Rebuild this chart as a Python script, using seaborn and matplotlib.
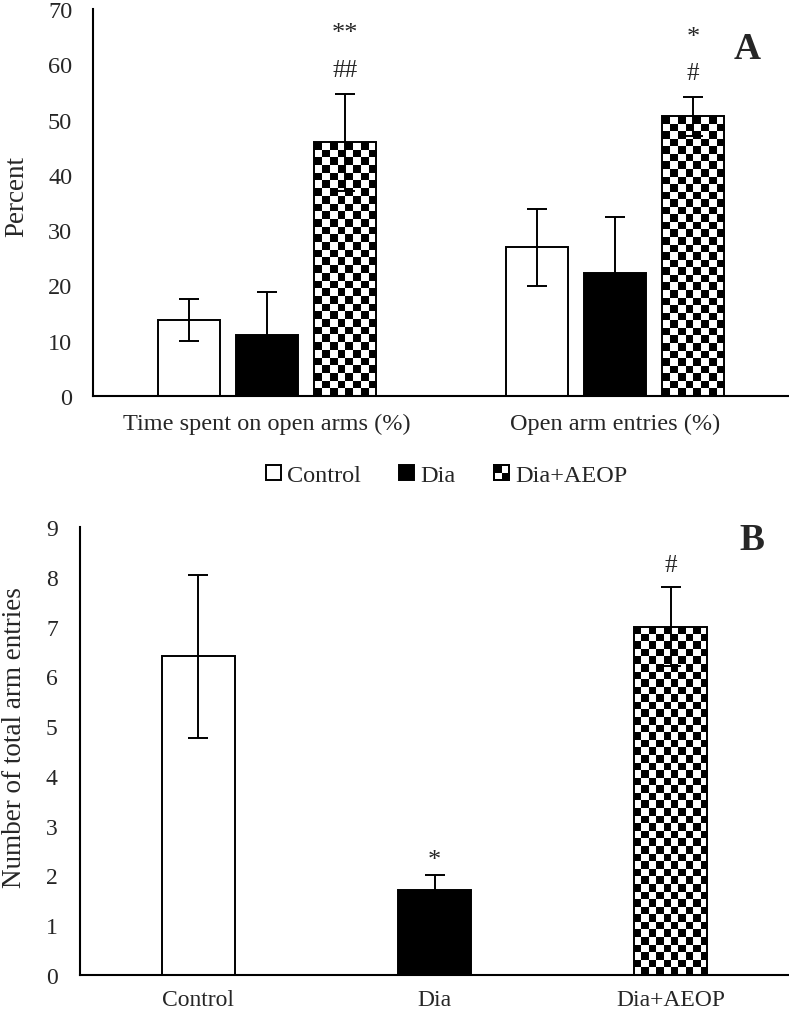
import numpy as np
import pandas as pd
import seaborn as sns
import matplotlib.pyplot as plt
from matplotlib.patches import Patch, Rectangle
from matplotlib.legend_handler import HandlerBase


# データ
groups = ["Control", "Dia", "Dia+AEOP"]
measures_a = ["Time spent on open arms (%)", "Open arm entries (%)"]

time_open_mean = [13.7, 11.0, 45.9]
time_open_se = [3.8, 7.8, 8.8]
entries_open_mean = [26.9, 22.2, 50.6]
entries_open_se = [7.0, 10.2, 3.5]

total_entries_mean = [6.4, 1.7, 7.0]
total_entries_se = [1.63, 0.3, 0.8]

# 有意差記号
stars_a = [["", "", "**"], ["", "", "*"]]
hashes_a = [["", "", "##"], ["", "", "#"]]
marks_b = ["", "*", "#"]

colors = {"Control": "white", "Dia": "black", "Dia+AEOP": "white"}
CELL_PX = 7.6


class CheckerHandler(HandlerBase):
    # 凡例用の小さい市松模様
    def create_artists(self, legend, orig_handle, xdescent, ydescent,
                       width, height, fontsize, trans):
        s = min(width, height)
        x0 = -xdescent + (width - s) / 2
        y0 = -ydescent + (height - s) / 2
        h = s / 2
        arts = [Rectangle((x0, y0), s, s, facecolor="white", edgecolor="black",
                          lw=1.4, transform=trans)]
        arts.append(Rectangle((x0, y0 + h), h, h, facecolor="black", lw=0, transform=trans))
        arts.append(Rectangle((x0 + h, y0), h, h, facecolor="black", lw=0, transform=trans))
        arts.append(Rectangle((x0, y0), s, s, facecolor="none", edgecolor="black",
                              lw=1.4, transform=trans))
        return arts


def add_checker(ax, patch):
    x0, w, h = patch.get_x(), patch.get_width(), patch.get_height()
    p0 = ax.transData.transform((x0, 0))
    p1 = ax.transData.transform((x0 + w, h))
    ncol = max(1, int(round((p1[0] - p0[0]) / CELL_PX)))
    nrow = max(1, int(round((p1[1] - p0[1]) / CELL_PX)))
    board = np.indices((nrow, ncol)).sum(axis=0) % 2
    im = ax.imshow(board, cmap="gray", extent=(x0, x0 + w, 0, h), aspect="auto",
                   interpolation="nearest", zorder=2, vmin=0, vmax=1)
    im.set_clip_path(patch)
    patch.set_facecolor("none")
    patch.set_zorder(3)


def style_axis(ax, ymax, step, ypad, xpad):
    ax.set_ylim(0, ymax)
    ax.set_yticks(np.arange(0, ymax + 0.01, step))
    ax.set_xlabel("")
    for side in ["top", "right"]:
        ax.spines[side].set_visible(False)
    for side in ["left", "bottom"]:
        ax.spines[side].set_color("black")
        ax.spines[side].set_linewidth(1.5)
    ax.tick_params(axis="y", length=0, pad=ypad)
    ax.tick_params(axis="x", length=0, pad=xpad)


def add_errorbars(ax, bars, se):
    xs = [p.get_x() + p.get_width() / 2 for p in bars]
    ys = [p.get_height() for p in bars]
    ax.errorbar(xs, ys, yerr=se, fmt="none", ecolor="black", elinewidth=1.4,
                capsize=7, capthick=1.4, zorder=5)
    return xs, [y + e for y, e in zip(ys, se)]


def main() -> None:
    sns.set_theme(style="white")
    plt.rcParams["font.family"] = ["Liberation Serif", "DejaVu Serif"]

    fig = plt.figure(figsize=(7.89, 10.12), dpi=100)
    ax_a = fig.add_axes([93 / 789, 1 - 397 / 1012, 696 / 789, 387 / 1012])
    ax_b = fig.add_axes([80 / 789, 1 - 976 / 1012, 709 / 789, 448 / 1012])

    # パネル A
    df_a = pd.DataFrame({
        "measure": np.repeat(measures_a, len(groups)),
        "group": groups * len(measures_a),
        "value": time_open_mean + entries_open_mean,
    })
    sns.barplot(data=df_a, x="measure", y="value", hue="group", hue_order=groups,
                palette=colors, saturation=1, width=0.672, gap=0.2,
                edgecolor="black", linewidth=1.4, errorbar=None, legend=False, ax=ax_a)
    ax_a.set_xlim(-0.5, 1.5)
    style_axis(ax_a, 70, 10, 15, 12)
    ax_a.set_ylabel("Percent", fontsize=19.5)
    ax_a.yaxis.set_label_coords(-0.092, 0.517)
    ax_a.tick_params(labelsize=17.5)

    bar_conts_a = list(ax_a.containers)
    se_a = [[time_open_se[i], entries_open_se[i]] for i in range(len(groups))]
    for gi, cont in enumerate(bar_conts_a):
        xs, tops = add_errorbars(ax_a, list(cont), se_a[gi])
        for mi in range(len(measures_a)):
            if stars_a[mi][gi]:
                ax_a.annotate(stars_a[mi][gi], (xs[mi], tops[mi]), xytext=(0, 39),
                              textcoords="offset points", ha="center", va="baseline",
                              fontsize=19)
            if hashes_a[mi][gi]:
                ax_a.annotate(hashes_a[mi][gi], (xs[mi], tops[mi]), xytext=(0, 13),
                              textcoords="offset points", ha="center", va="baseline",
                              fontsize=18)
    for p in bar_conts_a[2]:
        add_checker(ax_a, p)
    ax_a.set_xlim(-0.5, 1.5)
    ax_a.set_ylim(0, 70)
    ax_a.text(0.94, 0.898, "A", transform=ax_a.transAxes, ha="center", va="center",
              fontsize=27, fontweight="bold")

    # パネル B
    df_b = pd.DataFrame({"group": groups, "value": total_entries_mean})
    sns.barplot(data=df_b, x="group", y="value", hue="group", hue_order=groups,
                palette=colors, saturation=1, width=0.31, edgecolor="black",
                linewidth=1.4, errorbar=None, legend=False, ax=ax_b)
    ax_b.set_xlim(-0.5, 2.5)
    style_axis(ax_b, 9, 1, 16, 10)
    ax_b.set_ylabel("Number of total arm entries", fontsize=19.5)
    ax_b.yaxis.set_label_coords(-0.075, 0.533)
    ax_b.tick_params(labelsize=17)

    bars_b = [p for cont in list(ax_b.containers) for p in cont]
    xs, tops = add_errorbars(ax_b, bars_b, total_entries_se)
    for x, t, m in zip(xs, tops, marks_b):
        if m:
            ax_b.annotate(m, (x, t), xytext=(0, 7 if m == "*" else 11),
                          textcoords="offset points", ha="center", va="baseline",
                          fontsize=19 if m == "*" else 18)
    add_checker(ax_b, bars_b[2])
    ax_b.set_xlim(-0.5, 2.5)
    ax_b.set_ylim(0, 9)
    ax_b.text(0.948, 0.972, "B", transform=ax_b.transAxes, ha="center", va="center",
              fontsize=27, fontweight="bold")

    # 凡例
    handles = [
        Patch(facecolor="white", edgecolor="black", linewidth=1.4),
        Patch(facecolor="black", edgecolor="black", linewidth=1.4),
        Patch(facecolor="white", edgecolor="black"),
    ]
    fig.legend(handles, groups, loc="center", bbox_to_anchor=(0.566, 0.529), ncol=3,
               frameon=False, fontsize=17.5, handlelength=0.6, handleheight=0.6,
               handletextpad=0.25, columnspacing=1.6,
               handler_map={handles[2]: CheckerHandler()})

    fig.savefig("out.png", dpi=100)
    plt.close(fig)


if __name__ == "__main__":
    main()
